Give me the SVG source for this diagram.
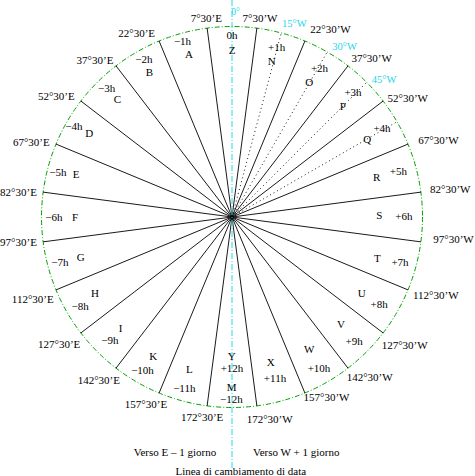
<svg xmlns="http://www.w3.org/2000/svg" width="475" height="476" viewBox="0 0 475 476">
<style>
text{font-family:"Liberation Serif","Times New Roman",serif;font-size:11px;fill:#000;text-anchor:middle}
.cy{fill:#22d8e8;font-size:10.5px}
.mer{stroke:#000;stroke-width:0.9;fill:none}
.dot{stroke:#000;stroke-width:0.9;fill:none;stroke-dasharray:1 3}
.circ{stroke:#00a000;stroke-width:1;fill:none;stroke-dasharray:5 2 1 2}
.dl{stroke:#22d8e8;stroke-width:1;fill:none;stroke-dasharray:6 2 1 2}
</style>
<rect width="475" height="476" fill="#fff"/>
<g id="circle"><circle class="circ" cx="232" cy="217" r="190.5"/></g>
<g id="connectors">
<path class="mer" d="M232 217L256.87 28.13M232 217L207.13 28.13M232 217L304.9 41M232 217L159.1 41M232 217L347.97 65.87M232 217L116.03 65.87M232 217L383.13 101.03M232 217L80.87 101.03M232 217L408 144.1M232 217L56 144.1M232 217L420.87 192.13M232 217L43.13 192.13M232 217L420.87 241.87M232 217L43.13 241.87M232 217L408 289.9M232 217L56 289.9M232 217L383.13 332.97M232 217L80.87 332.97M232 217L347.97 368.13M232 217L116.03 368.13M232 217L304.9 393M232 217L159.1 393M232 217L256.87 405.87M232 217L207.13 405.87"/>
<path class="dot" d="M232 217L281.31 32.99M232 217L327.25 52.02M232 217L366.7 82.3M232 217L396.98 121.75"/>
<line class="dl" x1="232" y1="0" x2="232" y2="469"/>
</g>
<g id="cyan-labels">
<text class="cy" x="235.5" y="15" style="font-size:9.5px">0°</text>
<text class="cy" x="294.3" y="26.7">15°W</text>
<text class="cy" x="344.5" y="50">30°W</text>
<text class="cy" x="384" y="83.3">45°W</text>
</g>
<g id="longitudes">
<text x="206.3" y="22">7°30’E</text>
<text x="260" y="22">7°30’W</text>
<text x="330.5" y="33.3">22°30’W</text>
<text x="371.7" y="62">37°30’W</text>
<text x="407.8" y="102">52°30’W</text>
<text x="438.5" y="144">67°30’W</text>
<text x="450.3" y="193">82°30’W</text>
<text x="453.5" y="242.7">97°30’W</text>
<text x="435.8" y="299">112°30’W</text>
<text x="404.7" y="349">127°30’W</text>
<text x="369.7" y="380.7">142°30’W</text>
<text x="326.5" y="401">157°30’W</text>
<text x="269.7" y="423">172°30’W</text>
<text x="202.2" y="420.7">172°30’E</text>
<text x="146" y="408.3">157°30’E</text>
<text x="98.8" y="384">142°30’E</text>
<text x="59.2" y="348.3">127°30’E</text>
<text x="32.8" y="303.3">112°30’E</text>
<text x="18.5" y="246">97°30’E</text>
<text x="18.5" y="195.7">82°30’E</text>
<text x="31.3" y="145.7">67°30’E</text>
<text x="56.3" y="100">52°30’E</text>
<text x="95" y="64">37°30’E</text>
<text x="136.7" y="37.3">22°30’E</text>
</g>
<g id="zone-Z"><text x="232" y="39">0h</text><text x="232" y="54">Z</text></g>
<g id="zone-A"><text x="182.5" y="45">−1h</text><text x="189" y="58">A</text></g>
<g id="zone-N"><text x="276.7" y="51">+1h</text><text x="271.7" y="65">N</text></g>
<g id="zone-O"><text x="319.5" y="71.7">+2h</text><text x="309.3" y="85.7">O</text></g>
<g id="zone-P"><text x="353" y="96">+3h</text><text x="342.7" y="110">P</text></g>
<g id="zone-Q"><text x="382" y="131.7">+4h</text><text x="367.3" y="142.7">Q</text></g>
<g id="zone-R"><text x="398.3" y="175">+5h</text><text x="376.7" y="180.7">R</text></g>
<g id="zone-S"><text x="403.8" y="220">+6h</text><text x="379.3" y="219.3">S</text></g>
<g id="zone-T"><text x="400" y="265.7">+7h</text><text x="377.3" y="261.7">T</text></g>
<g id="zone-U"><text x="379.2" y="308.3">+8h</text><text x="361.7" y="296.7">U</text></g>
<g id="zone-V"><text x="354.2" y="345">+9h</text><text x="341" y="328.3">V</text></g>
<g id="zone-W"><text x="319" y="372.3">+10h</text><text x="309.3" y="353.3">W</text></g>
<g id="zone-X"><text x="275" y="381.7">+11h</text><text x="270.7" y="365.7">X</text></g>
<g id="zone-Y"><text x="231.7" y="360">Y</text><text x="232" y="372.3">+12h</text></g>
<g id="zone-M"><text x="231.7" y="391">M</text><text x="231.3" y="403.3">−12h</text></g>
<g id="zone-L"><text x="184.3" y="392.3">−11h</text><text x="189.3" y="372.7">L</text></g>
<g id="zone-K"><text x="142.5" y="374">−10h</text><text x="153.3" y="360">K</text></g>
<g id="zone-I"><text x="109.8" y="344">−9h</text><text x="120.7" y="332.3">I</text></g>
<g id="zone-H"><text x="80.2" y="310">−8h</text><text x="95" y="297.3">H</text></g>
<g id="zone-G"><text x="59.8" y="265.7">−7h</text><text x="80.7" y="260.7">G</text></g>
<g id="zone-F"><text x="53.8" y="220.7">−6h</text><text x="75" y="220.7">F</text></g>
<g id="zone-E"><text x="57.8" y="176">−5h</text><text x="76" y="178.3">E</text></g>
<g id="zone-D"><text x="73.8" y="130">−4h</text><text x="89.3" y="137.3">D</text></g>
<g id="zone-C"><text x="106.7" y="91.7">−3h</text><text x="117.3" y="103.3">C</text></g>
<g id="zone-B"><text x="143.8" y="63.3">−2h</text><text x="149.3" y="76">B</text></g>
<g id="captions">
<text x="175" y="455.7">Verso E – 1 giorno</text>
<text x="296.2" y="455.7">Verso W + 1 giorno</text>
<text x="240.8" y="474.5">Linea di cambiamento di data</text>
</g>
</svg>
